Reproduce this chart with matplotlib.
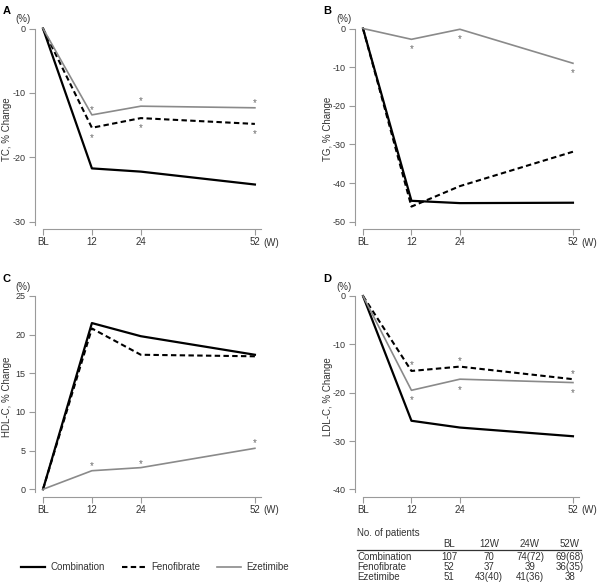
#!/usr/bin/env python3
"""
Percent change of lipid parameters by treatment group (4 panels + patient table)
"""

import matplotlib
matplotlib.use('Agg')
import matplotlib.pyplot as plt

plt.rcParams['font.family'] = ['Liberation Sans', 'DejaVu Sans']

weeks = [0, 12, 24, 52]
week_labels = ['BL', '12', '24', '52']
groups = ['Combination', 'Fenofibrate', 'Ezetimibe']

# panel A: TC
tc_comb = [0, -21.7, -22.2, -24.2]
tc_feno = [0, -15.4, -13.9, -14.8]
tc_ezet = [0, -13.4, -12.05, -12.3]
tc_star_x = [12, 12, 24, 24, 52, 52]
tc_star_y = [-12.6, -17.0, -11.3, -15.4, -11.5, -16.4]

# panel B: TG
tg_comb = [0, -44.6, -45.2, -45.1]
tg_feno = [0, -46.1, -40.8, -31.9]
tg_ezet = [0, -2.8, -0.2, -9.0]
tg_star_x = [12, 24, 52]
tg_star_y = [-5.3, -2.7, -11.5]

# panel C: HDL-C
hdl_comb = [0, 21.5, 19.8, 17.4]
hdl_feno = [0, 20.8, 17.4, 17.2]
hdl_ezet = [0, 2.4, 2.8, 5.3]
hdl_star_x = [12, 24, 52]
hdl_star_y = [3.0, 3.3, 6.0]

# panel D: LDL-C
ldl_comb = [0, -25.8, -27.2, -29.0]
ldl_feno = [0, -15.5, -14.6, -17.2]
ldl_ezet = [0, -19.5, -17.2, -17.9]
ldl_star_x = [12, 12, 24, 24, 52, 52]
ldl_star_y = [-14.3, -21.6, -13.4, -19.5, -16.1, -20.1]

# patient numbers table
table_cols = ['BL', '12W', '24W', '52W']
n_comb = ['107', '70', '74(72)', '69(68)']
n_feno = ['52', '37', '39', '36(35)']
n_ezet = ['51', '43(40)', '41(36)', '38']

GRAY = '#8a8a8a'
AXC = '#9a9a9a'
TXT = '#333333'
FS = 7
TFS = 6.5

styles = {
    'Combination': dict(color='black', lw=1.6, ls='-'),
    'Fenofibrate': dict(color='black', lw=1.5, ls=(0, (2.6, 1.6))),
    'Ezetimibe': dict(color=GRAY, lw=1.2, ls='-'),
}


def draw_panel(ax, series, stars, yticks, ylim, ylabel, letter):
    for name, vals in zip(groups, series):
        ax.plot(weeks, vals, clip_on=False, zorder=3, **styles[name])
    for sx, sy in zip(*stars):
        ax.text(sx, sy, '*', color='#6a6a6a', fontsize=7, ha='center', va='center')

    ax.set_xlim(0, 53.5)
    ax.set_ylim(*ylim)
    ax.set_xticks(weeks)
    ax.set_xticklabels(week_labels)
    ax.set_yticks(yticks)
    ax.set_yticklabels([str(t) if t >= 0 else '-' + str(-t) for t in yticks])

    for side in ['top', 'right']:
        ax.spines[side].set_visible(False)
    for side in ['left', 'bottom']:
        ax.spines[side].set_color(AXC)
        ax.spines[side].set_linewidth(0.8)
    # base-R style: y axis set apart from the x axis
    ax.spines['left'].set_position(('outward', 6))
    span = yticks[-1] - yticks[0]
    ax.spines['left'].set_bounds(yticks[0] - 0.015 * span, yticks[-1])
    ax.tick_params(axis='y', colors=AXC, labelcolor=TXT, labelsize=TFS,
                   length=4, width=0.8, pad=2.5)
    ax.tick_params(axis='x', colors=AXC, labelcolor=TXT, labelsize=FS,
                   length=4, width=0.8, pad=2)

    ax.set_ylabel(ylabel, fontsize=FS, color=TXT)
    ax.yaxis.set_label_coords(-0.14, 0.5)
    ax.text(1.01, -0.068, '(W)', transform=ax.transAxes, fontsize=FS, color=TXT,
            ha='left', va='center')
    ax.text(-0.09, 1.045, '(%)', transform=ax.transAxes, fontsize=FS, color=TXT,
            ha='center', va='center')
    ax.text(-0.185, 1.085, letter, transform=ax.transAxes, fontsize=8,
            fontweight='bold', ha='left', va='center')


fig = plt.figure(figsize=(6.0, 5.88), dpi=100)


def fx(px):
    return px / 600


def fy(py):
    return 1 - py / 588


def panel_rect(left, top, right, bottom):
    return [fx(left), fy(bottom), (right - left) / 600, (bottom - top) / 588]


axA = fig.add_axes(panel_rect(43, 28.5, 261, 229))
draw_panel(axA, [tc_comb, tc_feno, tc_ezet], (tc_star_x, tc_star_y),
           [-30, -20, -10, 0], (-31.1, 0), 'TC, % Change', 'A')

axB = fig.add_axes(panel_rect(363, 28.5, 579, 229))
draw_panel(axB, [tg_comb, tg_feno, tg_ezet], (tg_star_x, tg_star_y),
           [-50, -40, -30, -20, -10, 0], (-51.9, 0), 'TG, % Change', 'B')

axC = fig.add_axes(panel_rect(43, 296, 261, 496.7))
draw_panel(axC, [hdl_comb, hdl_feno, hdl_ezet], (hdl_star_x, hdl_star_y),
           [0, 5, 10, 15, 20, 25], (-0.96, 25), 'HDL-C, % Change', 'C')

axD = fig.add_axes(panel_rect(363, 296, 579, 496.7))
draw_panel(axD, [ldl_comb, ldl_feno, ldl_ezet], (ldl_star_x, ldl_star_y),
           [-40, -30, -20, -10, 0], (-41.5, 0), 'LDL-C, % Change', 'D')

# legend under panel C
handles = [plt.Line2D([], [], **styles[g]) for g in groups]
fig.legend(handles, groups, loc='center', bbox_to_anchor=(0.258, fy(567)),
           ncol=3, frameon=False, fontsize=FS, handlelength=2.5, handletextpad=0.5,
           columnspacing=1.75, labelcolor=TXT, borderpad=0)

# patient table under panel D
fig.text(fx(357), fy(533), 'No. of patients', fontsize=FS, color=TXT, ha='left', va='center')
col_x = [449, 489, 530, 570]
for cx, lab in zip(col_x, table_cols):
    fig.text(fx(cx), fy(544), lab, fontsize=FS, color=TXT, ha='center', va='center')
fig.add_artist(plt.Line2D([fx(357), fx(581)], [fy(549.5), fy(549.5)],
                          color=TXT, lw=0.9))
for ry, name, vals in zip([557.5, 567, 576.5], groups, [n_comb, n_feno, n_ezet]):
    fig.text(fx(357), fy(ry), name, fontsize=FS, color=TXT, ha='left', va='center')
    for cx, v in zip(col_x, vals):
        fig.text(fx(cx), fy(ry), v, fontsize=FS, color=TXT, ha='center', va='center')

fig.savefig('out.png', dpi=100)
plt.close(fig)
